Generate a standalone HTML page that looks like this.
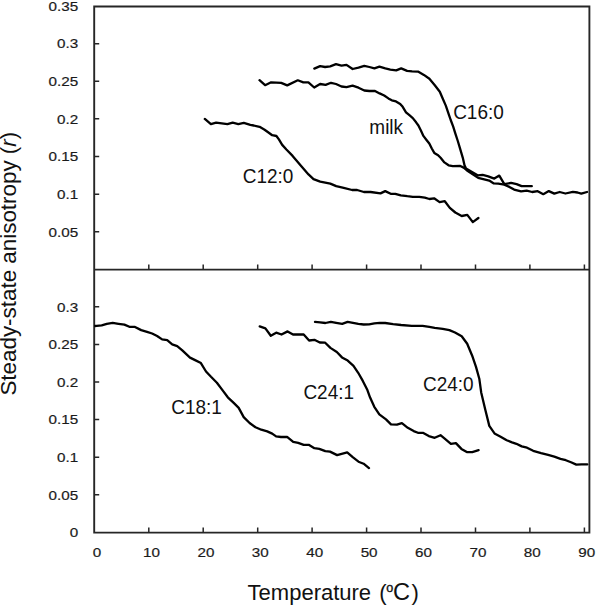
<!DOCTYPE html>
<html><head><meta charset="utf-8"><style>
html,body{margin:0;padding:0;background:#fff;}
body{width:596px;height:605px;overflow:hidden;}
svg{display:block;}
text{font-family:"Liberation Sans",sans-serif;fill:#111;}
.tk{font-size:13.6px;fill:#1a1a1a;stroke:#1a1a1a;stroke-width:0.2px;}
.sl{font-size:20.2px;fill:#111;}
.ti{font-size:22px;fill:#111;}
</style></head><body>
<svg width="596" height="605" viewBox="0 0 596 605">
<path d="M94.2,6.5 H589.4 V532.6 H94.2 Z M94.2,269.6 H589.4" fill="none" stroke="#262626" stroke-width="1.9"/>
<path d="M148.8,269.6 v-5 M148.8,532.6 v-5 M203.2,269.6 v-5 M203.2,532.6 v-5 M257.7,269.6 v-5 M257.7,532.6 v-5 M312.1,269.6 v-5 M312.1,532.6 v-5 M366.6,269.6 v-5 M366.6,532.6 v-5 M421.0,269.6 v-5 M421.0,532.6 v-5 M475.5,269.6 v-5 M475.5,532.6 v-5 M529.9,269.6 v-5 M529.9,532.6 v-5 M584.4,269.6 v-5 M584.4,532.6 v-5 M94.2,43.7 h5 M94.2,81.3 h5 M94.2,118.8 h5 M94.2,156.5 h5 M94.2,194.2 h5 M94.2,231.8 h5 M94.2,306.8 h5 M94.2,344.4 h5 M94.2,382.0 h5 M94.2,419.6 h5 M94.2,457.2 h5 M94.2,494.8 h5" fill="none" stroke="#262626" stroke-width="1.5"/>
<polyline points="204.8,118.9 210.9,124.1 216.1,122.6 221.8,123.4 227.4,124.2 232.7,122.6 238.3,124.1 243.8,122.9 250.3,124.9 253.7,125.5 259.6,126.8 264.6,129.7 268.8,132.7 272.2,135.2 276.4,136.0 278.9,139.4 282.2,144.9 286.4,149.5 292.6,155.9 301.8,166.8 308.5,174.4 313.5,179.1 320.2,181.6 330.3,183.6 336.2,186.1 343.7,187.8 352.1,190.0 357.1,190.0 363.9,192.0 370.6,192.0 380.5,193.4 385.2,191.1 390.7,193.8 395.3,193.8 400.8,195.3 407.3,196.2 412.8,196.8 419.3,196.8 424.8,197.7 429.4,199.0 434.1,198.3 439.6,202.1 444.8,201.2 449.8,207.9 455.3,212.5 461.7,216.0 467.3,214.9 472.8,222.1 478.4,218.0" fill="none" stroke="#000" stroke-width="2.3" stroke-linejoin="round" stroke-linecap="round"/>
<polyline points="259.5,80.2 265.1,85.2 271.1,82.3 281.2,82.9 287.2,85.4 297.8,80.3 303.3,82.4 308.4,82.4 314.2,87.5 320.1,84.0 325.6,84.9 331.0,82.8 336.0,84.0 341.5,86.5 346.5,87.1 352.6,85.7 358.5,87.7 364.3,90.5 369.4,91.0 375.0,91.0 379.6,93.4 384.2,95.5 388.4,98.4 391.8,100.3 396.0,101.4 400.2,103.9 402.7,106.8 406.0,112.3 409.4,115.2 412.8,118.1 416.1,122.3 418.4,125.5 420.9,130.5 423.4,135.9 426.3,139.7 429.3,143.5 431.8,148.5 434.3,152.9 438.1,155.2 440.6,157.8 444.4,162.4 448.6,165.3 452.8,166.1 460.3,166.0 463.7,167.6 467.0,170.5 477.0,177.1 478.2,177.9 484.2,179.3 489.2,180.6 493.8,183.4 498.3,183.7 504.3,184.7 509.4,186.9 514.1,189.6 521.1,191.4 526.7,190.7 532.2,192.0 537.7,191.2 543.3,194.2 548.8,191.1 554.3,193.6 559.7,192.0 565.4,193.5 572.9,191.8 577.5,192.5 581.3,193.7 587.0,192.0" fill="none" stroke="#000" stroke-width="2.3" stroke-linejoin="round" stroke-linecap="round"/>
<polyline points="314.3,68.6 320.1,66.1 325.1,67.0 330.2,66.3 336.0,64.2 341.5,65.6 346.5,64.9 352.6,69.0 358.5,67.6 364.3,65.9 369.4,67.0 374.4,68.4 379.4,66.7 385.3,68.4 390.3,69.7 396.2,70.4 401.2,68.4 407.1,70.9 412.1,71.4 418.0,71.6 423.9,74.9 429.4,78.8 434.8,85.3 439.8,91.7 442.8,98.7 445.8,105.6 449.2,115.6 450.7,120.0 453.2,126.7 455.3,133.4 457.8,141.0 460.3,149.4 462.8,157.8 464.5,165.3 466.0,168.6 477.6,175.3 482.7,174.9 488.2,176.3 494.3,178.6 499.3,175.6 504.3,184.2 511.1,182.9 516.6,184.1 521.6,186.1 526.9,186.2 531.8,186.2" fill="none" stroke="#000" stroke-width="2.3" stroke-linejoin="round" stroke-linecap="round"/>
<polyline points="95.2,326.0 96.7,325.9 101.7,325.4 106.8,323.8 112.7,322.9 118.5,323.8 124.4,324.6 129.4,326.8 134.5,326.8 141.2,330.1 147.0,331.8 152.1,333.5 157.1,336.0 162.1,339.4 167.2,340.2 172.2,344.4 177.2,346.1 182.3,350.3 190.0,357.6 195.1,360.1 200.9,363.1 206.0,371.5 211.0,376.8 216.9,382.7 221.9,389.4 227.8,397.3 233.7,402.9 238.7,407.9 243.7,417.1 249.6,423.0 255.5,427.2 261.3,429.7 267.2,431.4 272.2,433.6 276.1,436.4 281.0,437.0 287.1,436.9 293.2,441.9 298.2,442.9 303.7,444.9 308.7,444.8 314.4,448.2 319.3,448.9 325.3,451.1 330.0,451.6 337.1,455.1 347.2,452.4 352.7,457.2 358.5,461.7 363.6,463.7 369.0,468.1" fill="none" stroke="#000" stroke-width="2.3" stroke-linejoin="round" stroke-linecap="round"/>
<polyline points="259.7,326.4 265.4,328.4 270.8,335.8 276.2,332.7 281.5,334.5 287.6,331.4 293.0,334.5 303.7,334.5 309.1,340.5 314.4,339.8 319.8,342.5 325.2,342.7 330.4,347.9 336.8,352.0 342.0,357.4 347.7,360.6 353.5,365.8 358.2,372.8 362.8,380.9 367.4,390.1 370.1,397.6 374.3,406.8 379.3,414.3 386.0,419.4 391.0,424.4 396.9,424.7 401.9,423.2 407.8,427.8 413.7,431.1 417.9,432.8 422.9,432.8 428.8,436.1 434.7,437.8 440.5,435.2 445.0,438.9 450.9,443.9 455.9,443.1 461.4,448.9 466.8,452.1 472.3,452.1 478.6,450.2" fill="none" stroke="#000" stroke-width="2.3" stroke-linejoin="round" stroke-linecap="round"/>
<polyline points="315.0,321.8 320.1,322.4 325.4,323.0 330.8,321.8 336.2,322.8 342.2,323.8 347.6,321.8 353.0,322.8 358.3,323.8 363.7,324.5 369.1,324.4 374.4,323.4 379.8,322.8 385.2,323.0 393.1,324.1 401.1,325.0 411.8,325.8 422.6,325.8 429.3,326.8 434.7,327.9 442.7,328.8 449.4,330.1 455.0,332.5 461.7,336.3 467.2,343.8 472.6,356.8 476.0,366.9 479.3,378.7 481.2,392.4 485.3,409.7 489.3,425.9 494.5,433.4 500.6,436.7 506.7,440.3 512.0,442.4 516.4,443.8 521.7,446.4 527.0,447.7 533.2,450.8 541.1,453.1 548.1,454.9 554.3,456.6 560.5,458.8 565.8,460.2 571.0,462.3 576.3,464.6 581.6,464.4 587.3,464.4" fill="none" stroke="#000" stroke-width="2.3" stroke-linejoin="round" stroke-linecap="round"/>
<text transform="translate(78.2,10.9) scale(1.12,1)" text-anchor="end" class="tk">0.35</text>
<text transform="translate(78.2,48.4) scale(1.12,1)" text-anchor="end" class="tk">0.3</text>
<text transform="translate(78.2,86.0) scale(1.12,1)" text-anchor="end" class="tk">0.25</text>
<text transform="translate(78.2,123.5) scale(1.12,1)" text-anchor="end" class="tk">0.2</text>
<text transform="translate(78.2,161.2) scale(1.12,1)" text-anchor="end" class="tk">0.15</text>
<text transform="translate(78.2,198.9) scale(1.12,1)" text-anchor="end" class="tk">0.1</text>
<text transform="translate(78.2,236.5) scale(1.12,1)" text-anchor="end" class="tk">0.05</text>
<text transform="translate(78.2,311.5) scale(1.12,1)" text-anchor="end" class="tk">0.3</text>
<text transform="translate(78.2,349.1) scale(1.12,1)" text-anchor="end" class="tk">0.25</text>
<text transform="translate(78.2,386.7) scale(1.12,1)" text-anchor="end" class="tk">0.2</text>
<text transform="translate(78.2,424.3) scale(1.12,1)" text-anchor="end" class="tk">0.15</text>
<text transform="translate(78.2,461.9) scale(1.12,1)" text-anchor="end" class="tk">0.1</text>
<text transform="translate(78.2,499.5) scale(1.12,1)" text-anchor="end" class="tk">0.05</text>
<text transform="translate(78.2,537.1) scale(1.12,1)" text-anchor="end" class="tk">0</text>
<text transform="translate(97.1,557.3) scale(1.12,1)" text-anchor="middle" class="tk">0</text>
<text transform="translate(151.5,557.3) scale(1.12,1)" text-anchor="middle" class="tk">10</text>
<text transform="translate(205.9,557.3) scale(1.12,1)" text-anchor="middle" class="tk">20</text>
<text transform="translate(260.3,557.3) scale(1.12,1)" text-anchor="middle" class="tk">30</text>
<text transform="translate(314.7,557.3) scale(1.12,1)" text-anchor="middle" class="tk">40</text>
<text transform="translate(369.1,557.3) scale(1.12,1)" text-anchor="middle" class="tk">50</text>
<text transform="translate(423.5,557.3) scale(1.12,1)" text-anchor="middle" class="tk">60</text>
<text transform="translate(477.9,557.3) scale(1.12,1)" text-anchor="middle" class="tk">70</text>
<text transform="translate(532.3,557.3) scale(1.12,1)" text-anchor="middle" class="tk">80</text>
<text transform="translate(586.7,557.3) scale(1.12,1)" text-anchor="middle" class="tk">90</text>
<text transform="translate(478.45,118.5) scale(0.94,1)" text-anchor="middle" class="sl">C16:0</text>
<text transform="translate(386.2,133.7) scale(0.94,1)" text-anchor="middle" class="sl">milk</text>
<text transform="translate(268.1,182.6) scale(0.94,1)" text-anchor="middle" class="sl">C12:0</text>
<text transform="translate(196.55,414.2) scale(0.94,1)" text-anchor="middle" class="sl">C18:1</text>
<text transform="translate(328.7,399.2) scale(0.94,1)" text-anchor="middle" class="sl">C24:1</text>
<text transform="translate(448.25,390.7) scale(0.94,1)" text-anchor="middle" class="sl">C24:0</text>
<text y="599.6" class="ti"><tspan x="247.6">Temperature</tspan><tspan x="379.3">(</tspan><tspan x="386.2" y="591.9" font-size="12.6" style="stroke:#111;stroke-width:0.35px">o</tspan><tspan x="392.9" y="599.9" font-size="23.6">C</tspan><tspan x="411.4" y="599.6">)</tspan></text>
<text transform="translate(16,395.6) rotate(-90)" class="ti" style="font-size:22.4px">Steady-state anisotropy (<tspan font-style="italic">r</tspan>)</text>
</svg>
</body></html>
